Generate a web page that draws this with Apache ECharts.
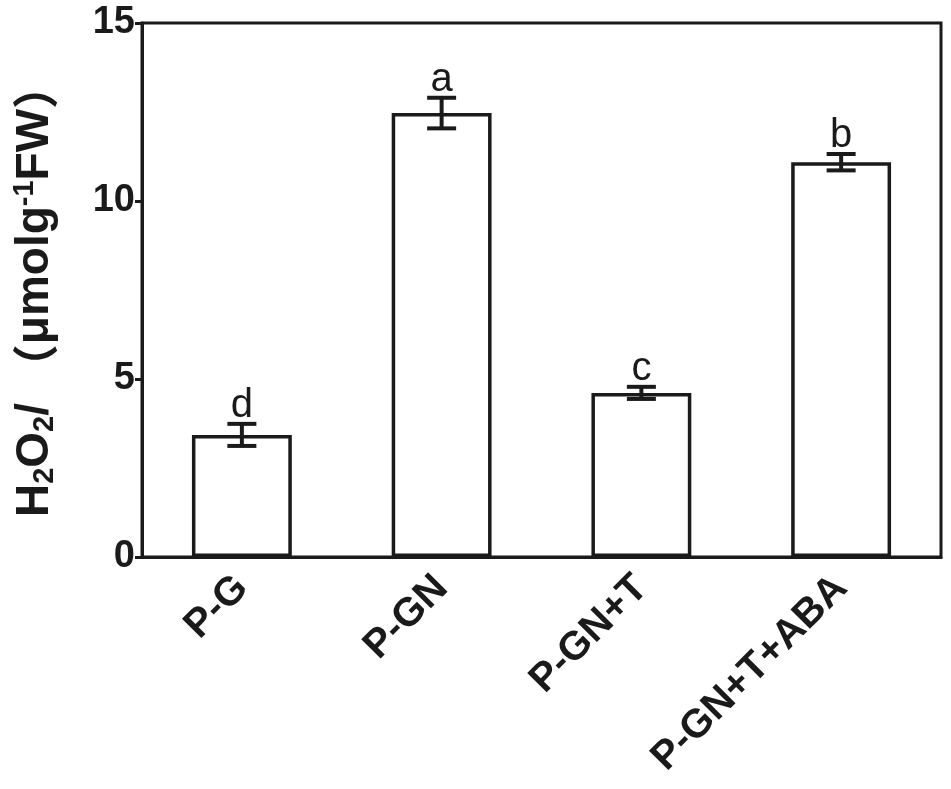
<!DOCTYPE html>
<html>
<head>
<meta charset="utf-8">
<script src="https://cdn.jsdelivr.net/npm/echarts@6/dist/echarts.min.js"></script>
<style>
html,body{margin:0;padding:0;background:#fff;}
#chart{width:951px;height:789px;}
</style>
</head>
<body>
<div id="chart"></div>
<script>
var categories = ['P-G', 'P-GN', 'P-GN+T', 'P-GN+T+ABA'];
var values = [3.43, 12.47, 4.61, 11.09];
var errors = [0.31, 0.43, 0.17, 0.23];
var letters = ['d', 'a', 'c', 'b'];
var yTicks = [0, 5, 10, 15];

var FONT = '"Liberation Sans", Arial, "Noto Sans CJK SC", sans-serif';
var chart = echarts.init(document.getElementById('chart'));

var errData = categories.map(function (c, i) { return [i, values[i], errors[i], letters[i]]; });

chart.setOption({
  animation: false,
  backgroundColor: '#ffffff',
  grid: { left: 142, right: 10, top: 23, bottom: 232, show: true, borderColor: '#1a1a1a', borderWidth: 3, containLabel: false },
  xAxis: {
    type: 'category',
    data: categories,
    axisLine: { show: true, lineStyle: { color: '#1a1a1a', width: 3 } },
    axisTick: { show: false },
    axisLabel: { rotate: 45, margin: 25, color: '#1a1a1a', fontFamily: FONT, fontWeight: 'bold', fontSize: 40, interval: 0 }
  },
  yAxis: {
    type: 'value',
    min: yTicks[0], max: yTicks[yTicks.length - 1], interval: 5,
    name: '{n|H}{s|2}{n|O}{s|2}{n|/ }{c|（}{n|μmolg}{p|-1}{n|FW}{c|）}',
    nameLocation: 'middle',
    nameGap: 82,
    nameRotate: 90,
    nameTextStyle: {
      color: '#1a1a1a', fontFamily: FONT, fontWeight: 'bold', fontSize: 46,
      rich: {
        n: { fontFamily: FONT, fontWeight: 'bold', fontSize: 46, color: '#1a1a1a' },
        s: { fontFamily: FONT, fontWeight: 'bold', fontSize: 29, color: '#1a1a1a', padding: [21, 0, 0, 0] },
        p: { fontFamily: FONT, fontWeight: 'bold', fontSize: 29, color: '#1a1a1a', padding: [0, 0, 19, 0] },
        c: { fontFamily: '"Noto Sans CJK SC", sans-serif', fontWeight: 'bold', fontSize: 46, color: '#1a1a1a' }
      }
    },
    splitLine: { show: false },
    axisLine: { show: true, lineStyle: { color: '#1a1a1a', width: 3 } },
    axisTick: { show: true, inside: false, length: 7, lineStyle: { color: '#1a1a1a', width: 3 } },
    axisLabel: { margin: 7, color: '#1a1a1a', fontFamily: FONT, fontWeight: 'bold', fontSize: 38 }
  },
  series: [
    {
      type: 'bar',
      data: values,
      barWidth: '50%',
      itemStyle: { color: '#ffffff', borderColor: '#1a1a1a', borderWidth: 3.5 },
      z: 2
    },
    {
      type: 'custom',
      data: errData,
      z: 5,
      renderItem: function (params, api) {
        var x = api.value(0), v = api.value(1), e = api.value(2);
        var top = api.coord([x, v + e]);
        var bot = api.coord([x, v - e]);
        var hw = 14.5;
        var st = { stroke: '#1a1a1a', lineWidth: 4 };
        return {
          type: 'group',
          children: [
            { type: 'line', shape: { x1: top[0], y1: top[1], x2: bot[0], y2: bot[1] }, style: st },
            { type: 'line', shape: { x1: top[0] - hw, y1: top[1], x2: top[0] + hw, y2: top[1] }, style: st },
            { type: 'line', shape: { x1: bot[0] - hw, y1: bot[1], x2: bot[0] + hw, y2: bot[1] }, style: st },
            { type: 'text', style: { text: letters[params.dataIndex], x: top[0], y: top[1] + 2, align: 'center', verticalAlign: 'bottom', fontFamily: FONT, fontSize: 40, fill: '#1a1a1a' } }
          ]
        };
      }
    }
  ]
});
</script>
</body>
</html>
